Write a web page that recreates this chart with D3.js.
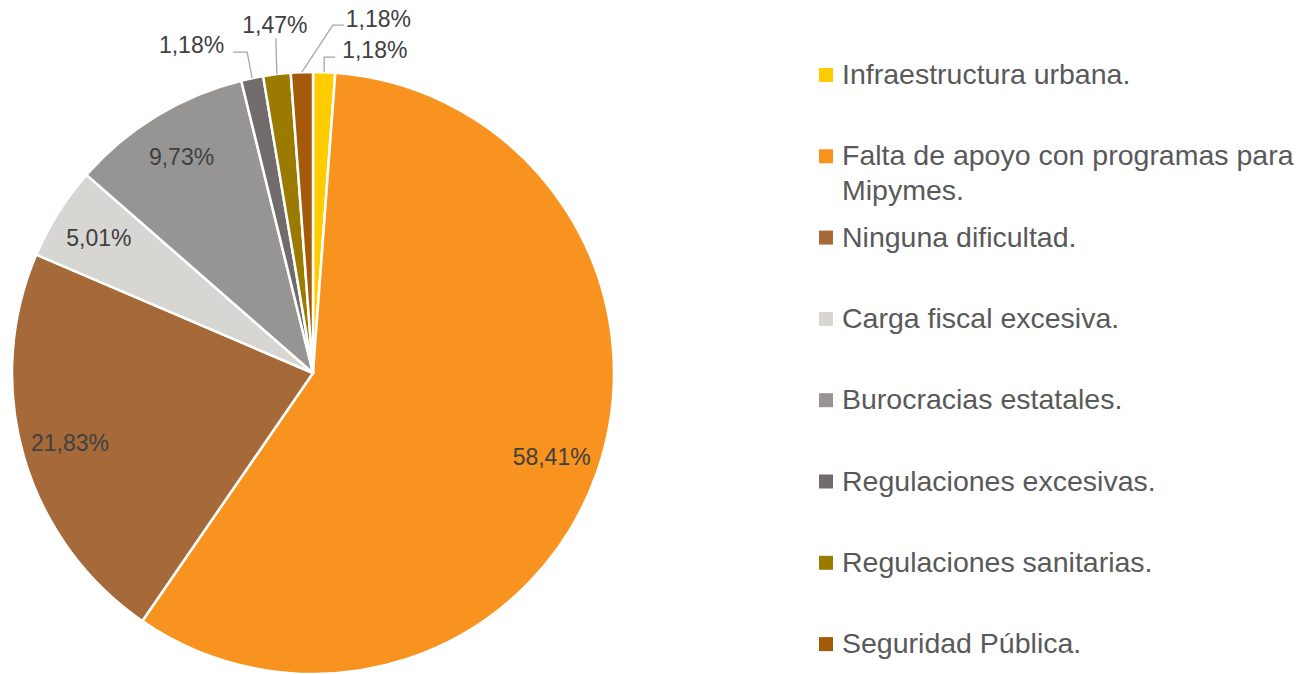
<!DOCTYPE html>
<html>
<head>
<meta charset="utf-8">
<script src="https://cdn.jsdelivr.net/npm/d3@7"></script>
<style>
  body { margin: 0; background: #fff; }
  svg { display: block; font-family: "Liberation Sans", Arial, sans-serif; }
</style>
</head>
<body>
<div class="chart"></div>
<script>
// data
const categories = [
  "Infraestructura urbana.",
  "Falta de apoyo con programas para Mipymes.",
  "Ninguna dificultad.",
  "Carga fiscal excesiva.",
  "Burocracias estatales.",
  "Regulaciones excesivas.",
  "Regulaciones sanitarias.",
  "Seguridad Pública."
];
const values = [1.18, 58.41, 21.83, 5.01, 9.73, 1.18, 1.47, 1.18];
const colors = ["#FFCC00", "#F7931E", "#A6693A", "#D7D6D2", "#969593", "#716B6B", "#9A7B00", "#A45A08"];

const width = 1306;
const height = 674;
const cx = 313, cy = 373, radius = 301;

const svg = d3.select(".chart")
  .append("svg")
  .attr("width", width)
  .attr("height", height);

const pie = d3.pie().sort(null).value(d => d);
const arcs = pie(values);
const arc = d3.arc().innerRadius(0).outerRadius(radius);
const labelArc = d3.arc().innerRadius(253).outerRadius(253);
const edgeArc = d3.arc().innerRadius(radius).outerRadius(radius);

const g = svg.append("g").attr("transform", `translate(${cx},${cy})`);

g.selectAll("path.slice")
  .data(arcs)
  .join("path")
  .attr("class", "slice")
  .attr("d", arc)
  .attr("fill", (d, i) => colors[i])
  .attr("stroke", "#fff")
  .attr("stroke-width", 2.5)
  .attr("stroke-linejoin", "round");

const fmt = v => d3.format(".2f")(v).replace(".", ",") + "%";

// inside labels for the big slices
const big = arcs.filter(d => d.value > 3);
g.selectAll("text.inside")
  .data(big)
  .join("text")
  .attr("class", "inside")
  .attr("transform", d => `translate(${labelArc.centroid(d)})`)
  .attr("text-anchor", "middle")
  .attr("dominant-baseline", "central")
  .attr("font-size", 23)
  .attr("fill", "#404040")
  .text(d => fmt(d.value));

// callout offsets (relative to the slice edge) for the thin slices
const callouts = {
  0: {elbow: [0, -15], end: [11, -15], text: [18, -22], anchor: "start"},
  5: {elbow: [-5, -26], end: [-19, -26], text: [-28, -33], anchor: "end"},
  6: {elbow: [-1, -36], end: [-1, -36], text: [-2, -49], anchor: "middle"},
  7: {elbow: [31, -47], end: [42, -47], text: [44, -53], anchor: "start"}
};

const small = arcs.map((d, i) => ({d, i})).filter(o => callouts[o.i]);

small.forEach(({d, i}) => {
  const c = callouts[i];
  const [px, py] = edgeArc.centroid(d);
  const pts = [[px, py], [px + c.elbow[0], py + c.elbow[1]], [px + c.end[0], py + c.end[1]]];
  g.append("path")
    .attr("d", d3.line()(pts))
    .attr("fill", "none")
    .attr("stroke", "#A6A6A6")
    .attr("stroke-width", 1.3);
  g.append("text")
    .attr("x", px + c.text[0])
    .attr("y", py + c.text[1])
    .attr("text-anchor", c.anchor)
    .attr("dominant-baseline", "central")
    .attr("font-size", 23)
    .attr("fill", "#404040")
    .text(fmt(d.value));
});

// legend
const legendX = 819, legendY = 74, legendStep = 81.3, maxW = 475;
const legend = svg.append("g");

categories.forEach((name, i) => {
  const y = legendY + i * legendStep;
  legend.append("rect")
    .attr("x", legendX)
    .attr("y", y - 6)
    .attr("width", 14)
    .attr("height", 14)
    .attr("fill", colors[i]);
  const t = legend.append("text")
    .attr("x", legendX + 23)
    .attr("y", y)
    .attr("dominant-baseline", "central")
    .attr("font-size", 28.5)
    .attr("fill", "#595959");
  // simple word wrap
  const words = name.split(" ");
  let line = [];
  let tspan = t.append("tspan").attr("x", legendX + 23).attr("dy", 0);
  let lineNo = 0;
  words.forEach(w => {
    line.push(w);
    tspan.text(line.join(" "));
    if (tspan.node().getComputedTextLength() > maxW && line.length > 1) {
      line.pop();
      tspan.text(line.join(" "));
      line = [w];
      lineNo++;
      tspan = t.append("tspan").attr("x", legendX + 23).attr("dy", 35).text(w);
    }
  });
});
</script>
</body>
</html>
